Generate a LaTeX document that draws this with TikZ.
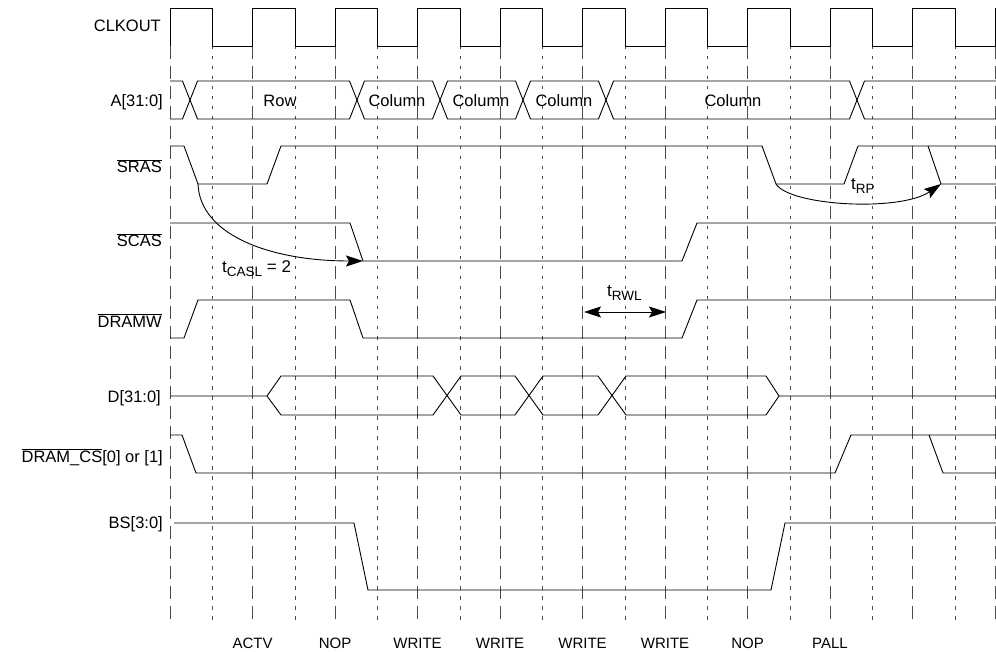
\documentclass[tikz,border=0pt]{standalone}
\usepackage{fontspec}
\setmainfont{Liberation Sans}
\usepackage{tikz}
\usetikzlibrary{arrows.meta}
\newcommand{\tsub}[1]{\raisebox{-0.35ex}{\fontsize{13.5}{15}\selectfont #1}}

\begin{document}
\begin{tikzpicture}[
  x=1pt, y=-1pt,
  wave/.style={line width=0.9pt},
  longgrid/.style={line width=0.8pt, black!70, dash pattern=on 13pt off 7pt},
  shortgrid/.style={line width=0.8pt, black!70, dash pattern=on 3.5pt off 6.5pt},
  signame/.style={anchor=base east, inner sep=0pt, font=\fontsize{16.5}{19}\selectfont},
  busval/.style={anchor=base, inner sep=0pt, font=\fontsize{16.5}{19}\selectfont},
  cmdname/.style={anchor=base, inner sep=0pt, font=\fontsize{15}{18}\selectfont},
  timing/.style={anchor=base west, inner sep=0pt, font=\fontsize{17}{19}\selectfont},
  timearrow/.style={line width=0.9pt, -{Stealth[length=17pt,width=11pt,inset=3pt]}},
  twoway/.style={line width=0.9pt, {Stealth[length=17pt,width=11pt,inset=3pt]}-{Stealth[length=17pt,width=11pt,inset=3pt]}}
]
\useasboundingbox (0,0) rectangle (996,652);

% clock edges
\draw[longgrid] (170,46) -- (170,623);
\draw[longgrid] (252.5,46) -- (252.5,623);
\draw[longgrid] (335,46) -- (335,623);
\draw[longgrid] (417.5,46) -- (417.5,623);
\draw[longgrid] (500,46) -- (500,623);
\draw[longgrid] (582.5,46) -- (582.5,623);
\draw[longgrid] (665,46) -- (665,623);
\draw[longgrid] (747.5,46) -- (747.5,623);
\draw[longgrid] (830,46) -- (830,623);
\draw[longgrid] (912.5,46) -- (912.5,623);
\draw[longgrid] (995,46) -- (995,623);
\draw[shortgrid] (212.5,46) -- (212.5,623);
\draw[shortgrid] (295,46) -- (295,623);
\draw[shortgrid] (377.5,46) -- (377.5,623);
\draw[shortgrid] (460,46) -- (460,623);
\draw[shortgrid] (542.5,46) -- (542.5,623);
\draw[shortgrid] (625,46) -- (625,623);
\draw[shortgrid] (707.5,46) -- (707.5,623);
\draw[shortgrid] (790,46) -- (790,623);
\draw[shortgrid] (872.5,46) -- (872.5,623);
\draw[shortgrid] (955,46) -- (955,623);

% signal names
\node[signame] (clk) at (161,32) {CLKOUT};
\node[signame] (addr) at (163,107) {A[31:0]};
\node[signame] (sras) at (162,173) {$\overline{\mbox{SRAS}}$};
\node[signame] (scas) at (162,247) {$\overline{\mbox{SCAS}}$};
\node[signame] (dramw) at (162,327) {$\overline{\mbox{DRAMW}}$};
\node[signame] (data) at (161,402) {D[31:0]};
\node[signame] (dramcs) at (163,462) {$\overline{\mbox{DRAM\_CS}}$[0] or [1]};
\node[signame] (bs) at (163,528) {BS[3:0]};

% waveforms
\draw[wave] (170,46) |- (212.5,8) |- (252.5,46) |- (295,8) |- (335,46) |- (377.5,8)
  |- (417.5,46) |- (460,8) |- (500,46) |- (542.5,8) |- (582.5,46) |- (625,8)
  |- (665,46) |- (707.5,8) |- (747.5,46) |- (790,8) |- (830,46) |- (872.5,8)
  |- (912.5,46) |- (955,8) |- (995,46) -- (995,8) -- (996,8);

\draw[wave] (170,81) -- (182.5,81) -- (197.5,119) -- (349.5,119) -- (364.5,81) -- (432.5,81)
  -- (447.5,119) -- (515.5,119) -- (530.5,81) -- (598.5,81) -- (613.5,119) -- (849.5,119)
  -- (864.5,81) -- (996,81);
\draw[wave] (170,119) -- (182.5,119) -- (197.5,81) -- (349.5,81) -- (364.5,119) -- (432.5,119)
  -- (447.5,81) -- (515.5,81) -- (530.5,119) -- (598.5,119) -- (613.5,81) -- (849.5,81)
  -- (864.5,119) -- (996,119);
\node[busval] (row) at (280,107) {Row};
\node[busval] (col1) at (397,107) {Column};
\node[busval] (col2) at (481,107) {Column};
\node[busval] (col3) at (564,107) {Column};
\node[busval] (col4) at (733,107) {Column};

\draw[wave] (170,146) -- (184,146) -- (198,184) -- (267,184) -- (281,146) -- (762,146)
  -- (776,184) -- (844,184) -- (858,146) -- (996,146);
\draw[wave] (928,146) -- (941,184) -- (996,184);

\draw[wave] (170,223) -- (350,223) -- (363,261) -- (682,261) -- (697,223) -- (996,223);

\draw[wave] (170,338) -- (184,338) -- (198,300) -- (350,300) -- (363,338) -- (682,338)
  -- (697,300) -- (996,300);

\draw[wave] (170,396) -- (267,396) -- (281,376) -- (433,376) -- (461,415) -- (515,415)
  -- (543,376) -- (598,376) -- (626,415) -- (766,415) -- (779,396) -- (996,396);
\draw[wave] (267,396) -- (281,415) -- (433,415) -- (461,376) -- (515,376) -- (543,415)
  -- (598,415) -- (626,376) -- (766,376) -- (779,396);

\draw[wave] (170,435) -- (182,435) -- (196,473) -- (835,473) -- (851,435) -- (996,435);
\draw[wave] (929,435) -- (943,473) -- (996,473);

\draw[wave] (174,523) -- (354,523) -- (368,590) -- (771,590) -- (785,523) -- (996,523);

% timing
\coordinate (rasdown) at (198,184);
\coordinate (casdown) at (363,261);
\coordinate (rwlfrom) at (584,312);
\coordinate (rwlto) at (666,312);
\coordinate (rpfrom) at (776,184);
\coordinate (rpto) at (941,184);

\draw[timearrow] (rasdown) .. controls (200,235) and (270,261) .. (casdown);
\node[timing] (tcasl) at (222,273) {t\tsub{CASL} = 2};

\draw[twoway] (rwlfrom) -- (rwlto);
\node[timing] (trwl) at (607,297) {t\tsub{RWL}};

\draw[timearrow] (rpfrom) .. controls (790,206) and (900,212) .. (rpto);
\node[timing] (trp) at (851,190) {t\tsub{RP}};

% commands
\node[cmdname] (actv) at (252.5,648) {ACTV};
\node[cmdname] (nop1) at (335,648) {NOP};
\node[cmdname] (wr1) at (417.5,648) {WRITE};
\node[cmdname] (wr2) at (500,648) {WRITE};
\node[cmdname] (wr3) at (582.5,648) {WRITE};
\node[cmdname] (wr4) at (665,648) {WRITE};
\node[cmdname] (nop2) at (747.5,648) {NOP};
\node[cmdname] (pall) at (830,648) {PALL};
\end{tikzpicture}
\end{document}
